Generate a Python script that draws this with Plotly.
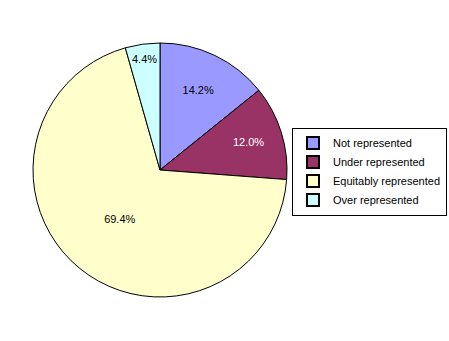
import plotly.graph_objects as go

categories = ["Not represented", "Under represented", "Equitably represented", "Over represented"]
values = [14.2, 12.0, 69.4, 4.4]
colors = ["#9999FF", "#993366", "#FFFFCC", "#CCFFFF"]
text_colors = ["black", "white", "black", "black"]

W, H = 449, 341
cx, cy, r = 160, 170, 127

fig = go.Figure(go.Pie(
    labels=categories,
    values=values,
    sort=False,
    direction="clockwise",
    rotation=0,
    marker=dict(colors=colors, line=dict(color="black", width=1)),
    textinfo="percent",
    texttemplate="%{percent:.1%}",
    textposition="inside",
    insidetextorientation="horizontal",
    textfont=dict(family="Arial, Liberation Sans", size=11, color=text_colors),
    domain=dict(x=[(cx - r) / W, (cx + r) / W], y=[(H - cy - r) / H, (H - cy + r) / H]),
    hoverinfo="skip",
))

fig.update_layout(
    width=W, height=H,
    margin=dict(l=0, r=0, t=0, b=0, autoexpand=False),
    paper_bgcolor="white",
    plot_bgcolor="white",
    showlegend=True,
    legend=dict(
        x=292 / W, y=1 - 127.5 / H, xanchor="left", yanchor="top",
        bordercolor="black", borderwidth=1,
        font=dict(family="Arial, Liberation Sans", size=11, color="black"),
        itemsizing="constant",
        tracegroupgap=0,
        bgcolor="white",
    ),
    uniformtext=dict(minsize=11, mode="show"),
)

fig.write_html("out.html")
